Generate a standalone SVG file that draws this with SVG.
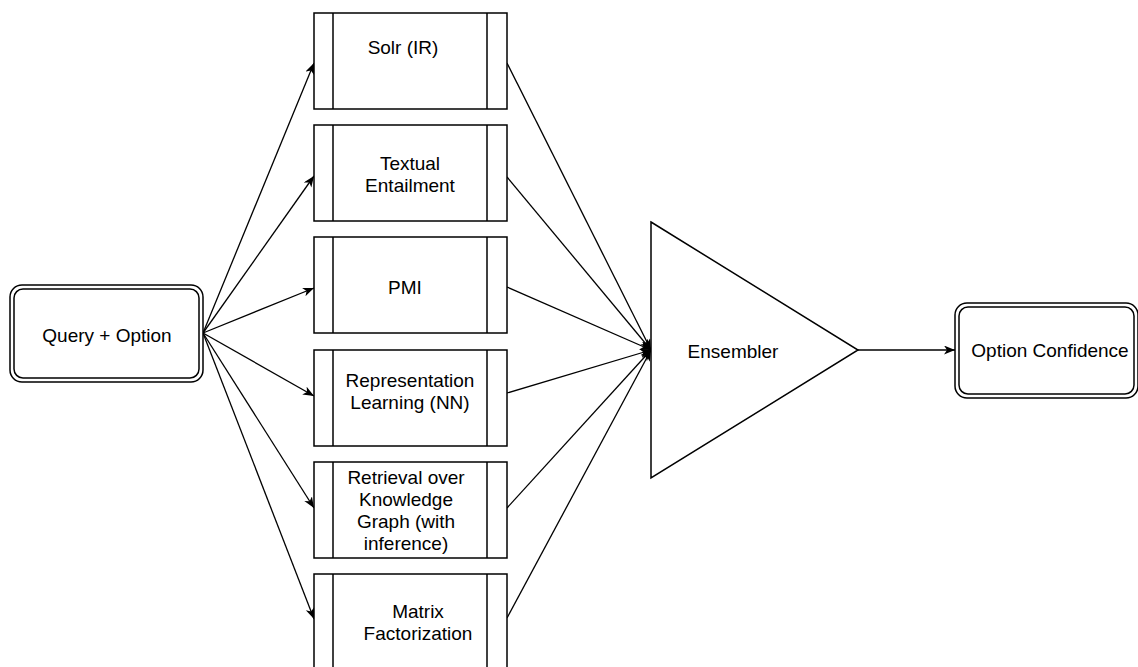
<svg xmlns="http://www.w3.org/2000/svg" width="1138" height="667" viewBox="0 0 1138 667">
<style>
text{font-family:"Liberation Sans",Arial,sans-serif;font-size:19px;fill:#000;text-anchor:middle}
.b{fill:#fff;stroke:#000;stroke-width:1.5}
.l{fill:none;stroke:#000;stroke-width:1.5}
.c{fill:none;stroke:#000;stroke-width:1.3}
</style>
<defs>
<marker id="a" markerUnits="userSpaceOnUse" markerWidth="12" markerHeight="10" refX="11" refY="4.5" orient="auto">
<path d="M0,0 L11,4.5 L0,9 L3,4.5 z" fill="#000"/>
</marker>
</defs>
<g id="connectors">
<line class="c" x1="203" y1="333" x2="314" y2="63" marker-end="url(#a)"/>
<line class="c" x1="203" y1="333" x2="314" y2="176" marker-end="url(#a)"/>
<line class="c" x1="203" y1="333" x2="314" y2="288" marker-end="url(#a)"/>
<line class="c" x1="203" y1="333" x2="314" y2="396" marker-end="url(#a)"/>
<line class="c" x1="203" y1="333" x2="314" y2="508" marker-end="url(#a)"/>
<line class="c" x1="203" y1="333" x2="314" y2="619" marker-end="url(#a)"/>
<line class="c" x1="507" y1="63" x2="651" y2="350" marker-end="url(#a)"/>
<line class="c" x1="507" y1="177" x2="651" y2="350" marker-end="url(#a)"/>
<line class="c" x1="507" y1="287" x2="651" y2="350" marker-end="url(#a)"/>
<line class="c" x1="507" y1="393" x2="651" y2="350" marker-end="url(#a)"/>
<line class="c" x1="507" y1="508" x2="651" y2="350" marker-end="url(#a)"/>
<line class="c" x1="507" y1="618" x2="651" y2="350" marker-end="url(#a)"/>
<line class="c" x1="858" y1="350" x2="955" y2="350" marker-end="url(#a)"/>
</g>
<g id="query">
<rect class="b" x="10" y="285" width="193" height="97" rx="12"/>
<rect class="l" x="14" y="289" width="185" height="89" rx="9"/>
<text x="107" y="341.5">Query + Option</text>
</g>
<g id="solr">
<rect class="b" x="314" y="13" width="193" height="96"/>
<line class="l" x1="333" y1="13" x2="333" y2="109"/><line class="l" x1="487" y1="13" x2="487" y2="109"/>
<text x="403" y="53.5">Solr (IR)</text>
</g>
<g id="textual">
<rect class="b" x="314" y="125" width="193" height="96"/>
<line class="l" x1="333" y1="125" x2="333" y2="221"/><line class="l" x1="487" y1="125" x2="487" y2="221"/>
<text x="410" y="169.5">Textual</text>
<text x="410" y="191.5">Entailment</text>
</g>
<g id="pmi">
<rect class="b" x="314" y="237" width="193" height="96"/>
<line class="l" x1="333" y1="237" x2="333" y2="333"/><line class="l" x1="487" y1="237" x2="487" y2="333"/>
<text x="405" y="293.5">PMI</text>
</g>
<g id="repr">
<rect class="b" x="314" y="350" width="193" height="96"/>
<line class="l" x1="333" y1="350" x2="333" y2="446"/><line class="l" x1="487" y1="350" x2="487" y2="446"/>
<text x="410" y="386.5">Representation</text>
<text x="410" y="408.5">Learning (NN)</text>
</g>
<g id="retrieval">
<rect class="b" x="314" y="462" width="193" height="96"/>
<line class="l" x1="333" y1="462" x2="333" y2="558"/><line class="l" x1="487" y1="462" x2="487" y2="558"/>
<text x="406" y="483.5">Retrieval over</text>
<text x="406" y="505.5">Knowledge</text>
<text x="406" y="527.5">Graph (with</text>
<text x="406" y="549.5">inference)</text>
</g>
<g id="matrix">
<rect class="b" x="314" y="574" width="193" height="96"/>
<line class="l" x1="333" y1="574" x2="333" y2="670"/><line class="l" x1="487" y1="574" x2="487" y2="670"/>
<text x="418" y="618">Matrix</text>
<text x="418" y="640">Factorization</text>
</g>
<g id="ensembler">
<polygon class="b" points="651,222 858,350 651,478"/>
<text x="733" y="357.5">Ensembler</text>
</g>
<g id="confidence">
<rect class="b" x="955" y="303" width="183" height="95" rx="12"/>
<rect class="l" x="959" y="307" width="175" height="87" rx="9"/>
<text x="1050" y="356.5">Option Confidence</text>
</g>
</svg>
